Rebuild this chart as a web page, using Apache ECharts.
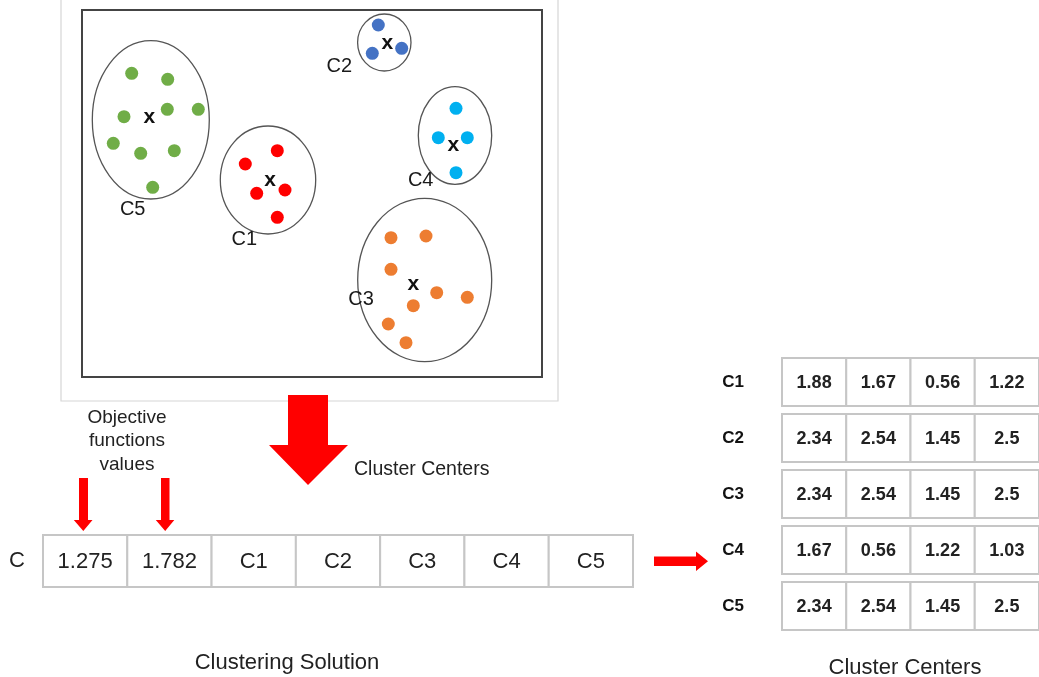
<!DOCTYPE html>
<html>
<head>
<meta charset="utf-8">
<script src="https://cdn.jsdelivr.net/npm/echarts/dist/echarts.min.js"></script>
<style>
html,body{margin:0;padding:0;background:#fff;}
#chart{width:1039px;height:677px;}
</style>
</head>
<body>
<div id="chart"></div>
<script>
// ---------- DATA ----------
const clusterNames = ['C1', 'C2', 'C3', 'C4', 'C5'];
// points of each cluster (scatter-plot units)
const c1Points = [[195.3, 140.7], [163.3, 154], [174.7, 183.3], [203, 180], [195.3, 207.3]];
const c2Points = [[296.3, 15], [290.3, 43.3], [319.7, 38.3]];
const c3Points = [[309, 227.7], [344, 226], [309, 259.3], [354.7, 282.7], [385.3, 287.3], [331.3, 295.7], [306.3, 314], [324, 332.7]];
const c4Points = [[374, 98.3], [356.3, 127.7], [385.3, 127.7], [374, 162.7]];
const c5Points = [[49.7, 63.3], [85.7, 69.3], [42, 106.7], [85.3, 99.3], [116.3, 99.3], [31.3, 133.3], [58.7, 143.3], [92.3, 140.7], [70.7, 177.3]];
// centroid marks (x) per cluster C1..C5
const clusterCentroids = [[188, 170], [305.3, 33.3], [331.3, 274], [371.3, 135], [67.3, 107.3]];
// enclosing ellipses per cluster C1..C5: [cx, cy, rx, ry]
const clusterEllipses = [[186, 170, 47.7, 54], [302.3, 32.5, 26.7, 28.5], [342.7, 270, 67, 81.7], [373, 125.5, 36.7, 48.8], [68.8, 109.8, 58.5, 79.2]];
// name label anchor per cluster C1..C5
const clusterLabelAnchors = [[162.3, 229.3], [257.3, 56], [279, 289.3], [338.7, 170], [50.7, 199.3]];

// clustering solution row
const solutionRowLabel = ['C'];
const solutionCells = ['1.275', '1.782', 'C1', 'C2', 'C3', 'C4', 'C5'];

// cluster centers table
const centerC1 = [1.88, 1.67, 0.56, 1.22];
const centerC2 = [2.34, 2.54, 1.45, 2.5];
const centerC3 = [2.34, 2.54, 1.45, 2.5];
const centerC4 = [1.67, 0.56, 1.22, 1.03];
const centerC5 = [2.34, 2.54, 1.45, 2.5];
const centerDims = ['d1', 'd2', 'd3', 'd4'];

// ---------- STYLE ----------
const FONT = "'Liberation Sans', Arial, sans-serif";
const clusterColors = ['#ff0000', '#4472c4', '#ed7d31', '#00b0f0', '#70ad47'];
const clusterPoints = [c1Points, c2Points, c3Points, c4Points, c5Points];
const centerRows = [centerC1, centerC2, centerC3, centerC4, centerC5];

const chart = echarts.init(document.getElementById('chart'), null, {renderer: 'canvas'});

const series = [];
// ellipses
series.push({
  type: 'custom', xAxisIndex: 0, yAxisIndex: 0, silent: true, z: 3,
  data: clusterEllipses.map(e => e.slice()),
  renderItem: function (params, api) {
    const c = api.coord([api.value(0), api.value(1)]);
    const s = api.size([api.value(2), api.value(3)]);
    const rx = s[0], ry = s[1];
    const d = 'M' + (c[0] - rx) + ' ' + c[1] +
      ' A' + rx + ' ' + ry + ' 0 1 0 ' + (c[0] + rx) + ' ' + c[1] +
      ' A' + rx + ' ' + ry + ' 0 1 0 ' + (c[0] - rx) + ' ' + c[1] + ' Z';
    return {type: 'path', z2: 0, shape: {pathData: d, x: c[0] - rx, y: c[1] - ry, width: 2 * rx, height: 2 * ry, layout: 'cover'},
      style: {fill: 'none', stroke: '#555', lineWidth: 1.3}};
  }
});
// points
clusterPoints.forEach((pts, i) => {
  series.push({
    type: 'scatter', xAxisIndex: 0, yAxisIndex: 0, silent: true, z: 4,
    symbol: 'circle', symbolSize: 13,
    itemStyle: {color: clusterColors[i], opacity: 1},
    data: pts
  });
});
// centroid x marks
series.push({
  type: 'scatter', xAxisIndex: 0, yAxisIndex: 0, silent: true, z: 5,
  symbolSize: 1, itemStyle: {color: 'rgba(0,0,0,0)'},
  label: {show: true, position: 'inside', formatter: 'x', fontSize: 21, fontWeight: 'bold', color: '#111', textBorderWidth: 0, opacity: 1, fontFamily: FONT},
  data: clusterCentroids
});
// cluster names
series.push({
  type: 'scatter', xAxisIndex: 0, yAxisIndex: 0, silent: true, z: 5,
  symbolSize: 1, itemStyle: {color: 'rgba(0,0,0,0)'},
  label: {show: true, position: 'inside', formatter: p => clusterNames[p.dataIndex], fontSize: 20, color: '#1a1a1a', textBorderWidth: 0, opacity: 1, fontFamily: FONT},
  data: clusterLabelAnchors
});
// solution row
series.push({
  type: 'custom', xAxisIndex: 1, yAxisIndex: 1, silent: true,
  data: solutionCells.map((v, i) => [i, 0]),
  renderItem: function (params, api) {
    const c = api.coord([api.value(0), api.value(1)]);
    const s = api.size([1, 1]);
    return {type: 'group', children: [
      {type: 'rect', shape: {x: c[0] - s[0] / 2, y: c[1] - s[1] / 2, width: s[0], height: s[1]},
        style: {fill: '#fff', stroke: '#c6c6c6', lineWidth: 2}},
      {type: 'text', style: {text: solutionCells[params.dataIndex], x: c[0], y: c[1] + 1, align: 'center', verticalAlign: 'middle',
        fontSize: 22, fontFamily: FONT, fill: '#222'}}
    ]};
  }
});
// cluster centers table
const tableData = [];
centerRows.forEach((row, r) => row.forEach((v, c) => tableData.push([c, r, v])));
series.push({
  type: 'custom', xAxisIndex: 2, yAxisIndex: 2, silent: true,
  data: tableData,
  renderItem: function (params, api) {
    const c = api.coord([api.value(0), api.value(1)]);
    const s = api.size([1, 1]);
    const h = s[1] - 8;
    return {type: 'group', children: [
      {type: 'rect', shape: {x: c[0] - s[0] / 2, y: c[1] - h / 2, width: s[0], height: h},
        style: {fill: '#fff', stroke: '#c6c6c6', lineWidth: 2}},
      {type: 'text', style: {text: String(api.value(2)), x: c[0], y: c[1] + 1, align: 'center', verticalAlign: 'middle',
        fontSize: 18, fontWeight: 'bold', fontFamily: FONT, fill: '#222'}}
    ]};
  }
});

const option = {
  backgroundColor: '#fff',
  animation: false,
  grid: [
    {left: 82, top: 10, width: 460, height: 367, show: true, borderColor: '#444', borderWidth: 2, backgroundColor: '#fff'},
    {left: 43, top: 535, width: 590, height: 52},
    {left: 782, top: 354, width: 264, height: 280}
  ],
  xAxis: [
    {gridIndex: 0, type: 'value', min: 0, max: 460, show: false},
    {gridIndex: 1, type: 'category', data: solutionCells.map((v, i) => String(i)), show: false},
    {gridIndex: 2, type: 'category', data: centerDims, show: false}
  ],
  yAxis: [
    {gridIndex: 0, type: 'value', min: 0, max: 367, inverse: true, show: false},
    {gridIndex: 1, type: 'category', data: solutionRowLabel,
      axisLine: {show: false}, axisTick: {show: false}, splitLine: {show: false},
      axisLabel: {fontSize: 22, color: '#222', fontFamily: FONT, margin: 26, align: 'center', padding: [18, 0, 0, 0]}},
    {gridIndex: 2, type: 'category', data: clusterNames, inverse: true,
      axisLine: {show: false}, axisTick: {show: false}, splitLine: {show: false},
      axisLabel: {fontSize: 17, fontWeight: 'bold', color: '#111', fontFamily: FONT, margin: 49, align: 'center', padding: [0, 0, 4, 0]}}
  ],
  graphic: [
    // embedded picture frame
    {type: 'rect', z: -1, shape: {x: 61, y: -5, width: 497, height: 406}, style: {fill: '#fff', stroke: '#d6d6d6', lineWidth: 1.2}},
    // big arrow
    {type: 'polygon', shape: {points: [[288, 395], [328, 395], [328, 445], [348, 445], [308, 485], [269, 445], [288, 445]]}, style: {fill: '#ff0000'}},
    // small arrows
    {type: 'polygon', shape: {points: [[79, 478], [88, 478], [88, 520], [92.5, 520], [83.3, 531], [73.8, 520], [79, 520]]}, style: {fill: '#ff0000'}},
    {type: 'polygon', shape: {points: [[161, 478], [169.5, 478], [169.5, 520], [174.3, 520], [165.2, 531], [155.8, 520], [161, 520]]}, style: {fill: '#ff0000'}},
    // right arrow
    {type: 'polygon', shape: {points: [[654, 556.5], [696, 556.5], [696, 551.5], [708, 561.3], [696, 571], [696, 566], [654, 566]]}, style: {fill: '#ff0000'}},
    // texts
    {type: 'text', style: {text: 'Objective\nfunctions\nvalues', x: 127, y: 406, align: 'center', verticalAlign: 'top', fontSize: 19, lineHeight: 23.5, fontFamily: FONT, fill: '#222'}},
    {type: 'text', style: {text: 'Cluster Centers', x: 354, y: 470, align: 'left', verticalAlign: 'middle', fontSize: 19.5, fontFamily: FONT, fill: '#222'}},
    {type: 'text', style: {text: 'Clustering Solution', x: 287, y: 663, align: 'center', verticalAlign: 'middle', fontSize: 22, fontFamily: FONT, fill: '#222'}},
    {type: 'text', style: {text: 'Cluster Centers', x: 905, y: 668, align: 'center', verticalAlign: 'middle', fontSize: 22, fontFamily: FONT, fill: '#222'}}
  ],
  series: series
};
chart.setOption(option);
</script>
</body>
</html>
